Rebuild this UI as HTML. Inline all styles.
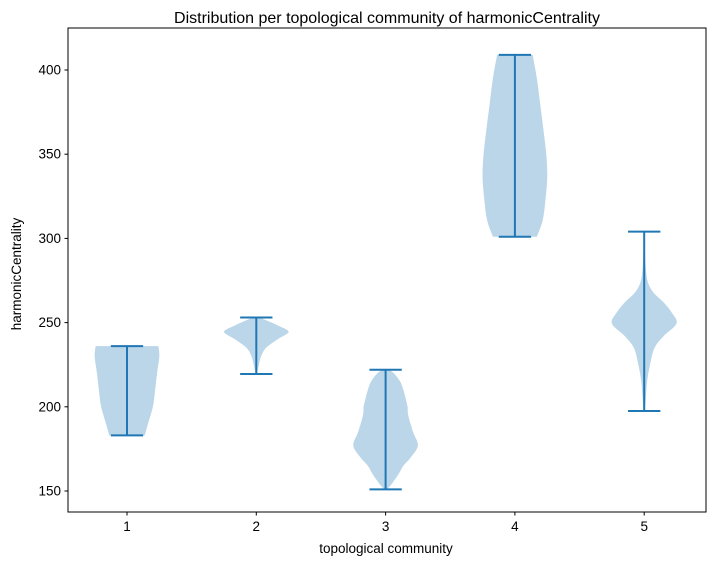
<!DOCTYPE html>
<html><head><meta charset="utf-8"><style>
body{margin:0;background:#fff}
text{font-family:"Liberation Sans","DejaVu Sans",sans-serif;fill:#000}
</style></head><body>
<svg id="chart" width="715" height="565" xmlns="http://www.w3.org/2000/svg">
<rect width="715" height="565" fill="#fff"/>
<text x="387" y="23" font-size="16" text-anchor="middle">Distribution per topological community of harmonicCentrality</text>
<text x="386" y="553" font-size="13.5" text-anchor="middle">topological community</text>
<text transform="translate(21,274) rotate(-90)" font-size="13.5" text-anchor="middle">harmonicCentrality</text>
<g id="plot"></g>
<rect x="68" y="28" width="638" height="484" fill="none" stroke="#000" stroke-width="1"/>
</svg>
<script>
const categories = ["1","2","3","4","5"];
const yTicks = [150,200,250,300,350,400];
const v1Vals = [183,190,200,210,220,230,236];
const v1Wid  = [0.55,0.65,0.8,0.87,0.93,1.0,0.97];
const v2Vals = [219.5,225,230,235,240,244.5,248,251,253];
const v2Wid  = [0.02,0.08,0.15,0.3,0.65,1.0,0.7,0.35,0.1];
const v3Vals = [151,155,160,165,170,177,185,195,200,205,210,215,220,222];
const v3Wid  = [0.05,0.22,0.4,0.55,0.78,1.0,0.85,0.7,0.68,0.62,0.55,0.45,0.25,0.1];
const v4Vals = [301,310,320,336,350,365,380,395,409];
const v4Wid  = [0.68,0.85,0.93,1.0,0.97,0.88,0.78,0.68,0.55];
const v5Vals = [197.5,205,215,225,235,242,249.5,256,262,268,275,285,295,304];
const v5Wid  = [0.02,0.05,0.09,0.18,0.32,0.6,1.0,0.85,0.6,0.28,0.1,0.04,0.02,0.01];
const violins = [[v1Vals,v1Wid],[v2Vals,v2Wid],[v3Vals,v3Wid],[v4Vals,v4Wid],[v5Vals,v5Wid]];

const NS="http://www.w3.org/2000/svg";
const g=document.getElementById('plot');
function yS(v){return 491-(v-150)*(421/250);}
function xS(i){return 127+i*129.3;}
const unit=129.3;
function mk(t,a){const e=document.createElementNS(NS,t);for(const k in a)e.setAttribute(k,a[k]);g.appendChild(e);return e;}
function smooth(pts){
  // Catmull-Rom to cubic bezier segments (continuing from pts[0])
  let d='';
  for(let i=0;i<pts.length-1;i++){
    const p0=pts[Math.max(0,i-1)],p1=pts[i],p2=pts[i+1],p3=pts[Math.min(pts.length-1,i+2)];
    const c1=[p1[0]+(p2[0]-p0[0])/6,p1[1]+(p2[1]-p0[1])/6];
    const c2=[p2[0]-(p3[0]-p1[0])/6,p2[1]-(p3[1]-p1[1])/6];
    d+=' C'+c1[0]+','+c1[1]+' '+c2[0]+','+c2[1]+' '+p2[0]+','+p2[1];
  }
  return d;
}

yTicks.forEach(t=>{
  const tk=mk('line',{x1:64.5,x2:68,y1:yS(t),y2:yS(t),stroke:'#000'});
  
  
  const tx=mk('text',{x:61,y:yS(t)+4.5,'font-size':13.5,'text-anchor':'end'});
  tx.textContent=t;
  
  
});
categories.forEach((c,i)=>{
  const tk=mk('line',{x1:xS(i),x2:xS(i),y1:512,y2:515.5,stroke:'#000'});
  
  
  const tx=mk('text',{x:xS(i),y:531,'font-size':13.5,'text-anchor':'middle'});
  tx.textContent=c;
  
  
});
violins.forEach((v,i)=>{
  const vals=v[0],w=v[1],cx=xS(i),hw=0.25*unit;
  const right=[],left=[];
  for(let k=0;k<vals.length;k++){right.push([cx+w[k]*hw,yS(vals[k])]);left.unshift([cx-w[k]*hw,yS(vals[k])]);}
  const d='M'+right[0][0]+','+right[0][1]+smooth(right)+' L'+left[0][0]+','+left[0][1]+smooth(left)+' Z';
  const p=mk('path',{d:d,fill:'#1f77b4','fill-opacity':0.3});
  
  
  const mn=vals[0],mx=vals[vals.length-1],cw=0.125*unit;
  const l=mk('line',{x1:cx,x2:cx,y1:yS(mn),y2:yS(mx),stroke:'#1f77b4','stroke-width':2});
  
  
  [mn,mx].forEach(m=>{
    const c=mk('line',{x1:cx-cw,x2:cx+cw,y1:yS(m),y2:yS(m),stroke:'#1f77b4','stroke-width':2});
    
    
  });
});
</script>
</body></html>
